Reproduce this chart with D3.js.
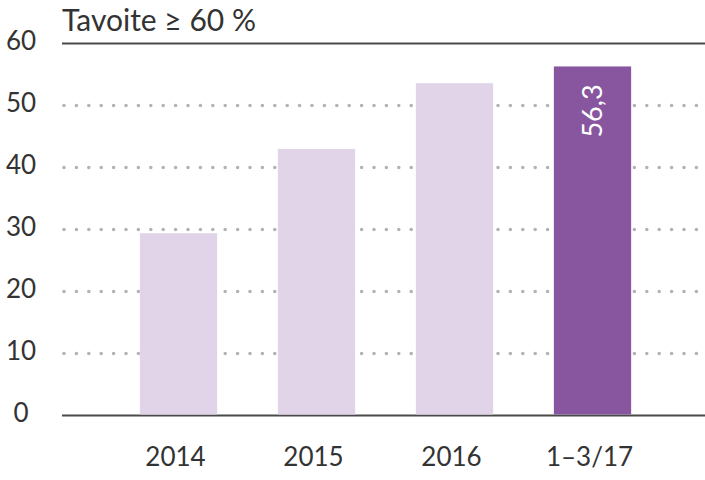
<!DOCTYPE html>
<html>
<head>
<meta charset="utf-8">
<script src="https://cdn.jsdelivr.net/npm/d3@7"></script>
<style>
  body { margin: 0; background: #fff; }
  svg { display: block; font-family: Lato, "Open Sans", sans-serif; }
</style>
</head>
<body>
<div id="chart"></div>
<script>
// DATA
let categories = ["2014", "2015", "2016", "1–3/17"];
let values = [29.4, 43.0, 53.6, 56.3];
let yTicks = [0, 10, 20, 30, 40, 50, 60];
let title = "Tavoite ≥ 60 %";

// DIMENSIONS
let WIDTH = 705,
  HEIGHT = 480;

let svg = d3
  .select("#chart")
  .append("svg")
  .attr("width", WIDTH)
  .attr("height", HEIGHT);

// SCALES
let yScale = d3.scaleLinear().domain([0, 60]).range([415.5, 43.5]);
let xScale = d3
  .scaleBand()
  .domain(categories)
  .range([109.5, 661.5])
  .paddingInner(0.44)
  .paddingOuter(0.22);

// dotted gridlines
svg
  .append("g")
  .selectAll("line")
  .data(yTicks.filter((d) => d > 0 && d < 60))
  .enter()
  .append("line")
  .attr("x1", 64)
  .attr("x2", WIDTH)
  .attr("y1", (d) => yScale(d))
  .attr("y2", (d) => yScale(d))
  .attr("stroke", "#b3b3b3")
  .attr("stroke-width", 3.6)
  .attr("stroke-linecap", "round")
  .attr("stroke-dasharray", "0 12.4");

// top and base lines
svg
  .append("g")
  .selectAll("line")
  .data([0, 60])
  .enter()
  .append("line")
  .attr("x1", 62)
  .attr("x2", WIDTH)
  .attr("y1", (d) => yScale(d))
  .attr("y2", (d) => yScale(d))
  .attr("stroke", "#4a4a4a")
  .attr("stroke-width", 2);

// BARS
let last = categories.length - 1;
svg
  .append("g")
  .selectAll("rect")
  .data(values)
  .enter()
  .append("rect")
  .attr("x", (d, i) => xScale(categories[i]))
  .attr("y", (d) => yScale(d))
  .attr("width", xScale.bandwidth())
  .attr("height", (d) => yScale(0) - 1 - yScale(d))
  .attr("fill", (d, i) => (i === last ? "#87569f" : "#e1d4e8"));

// value label on the last bar
let cx = xScale(categories[last]) + xScale.bandwidth() / 2;
let ty = yScale(values[last]) + 18;
svg
  .append("text")
  .attr("transform", `translate(${cx + 9}, ${ty}) rotate(-90)`)
  .attr("text-anchor", "end")
  .attr("fill", "#fff")
  .attr("font-size", 27)
  .text(String(values[last]).replace(".", ","));

// Y-AXIS labels
let yAxis = svg
  .append("g")
  .attr("transform", "translate(21,0)")
  .call(d3.axisLeft(yScale).tickValues(yTicks).tickSize(0).tickPadding(0));
yAxis.select(".domain").remove();
yAxis
  .selectAll("text")
  .attr("x", 0)
  .attr("y", -2)
  .attr("text-anchor", "middle")
  .attr("font-size", 26)
  .attr("font-family", "Lato, sans-serif")
  .attr("fill", "#333");

// X-AXIS labels
let xAxis = svg
  .append("g")
  .attr("transform", `translate(-3,${yScale(0)})`)
  .call(d3.axisBottom(xScale).tickSize(0).tickPadding(32));
xAxis.select(".domain").remove();
xAxis
  .selectAll("text")
  .attr("font-size", 26)
  .attr("font-family", "Lato, sans-serif")
  .attr("fill", "#333");

// TITLE
svg
  .append("text")
  .attr("x", 62)
  .attr("y", 31)
  .attr("font-size", 30)
  .attr("fill", "#333")
  .text(title);
</script>
</body>
</html>
